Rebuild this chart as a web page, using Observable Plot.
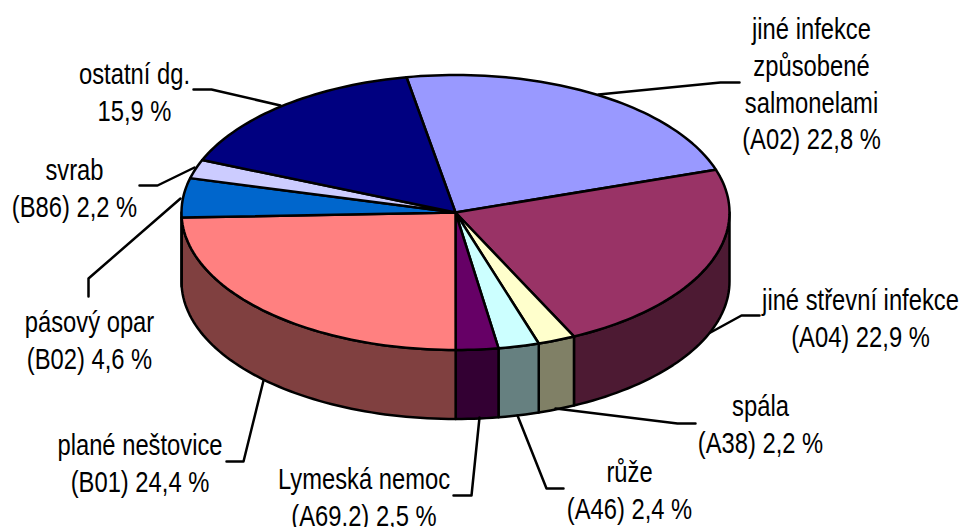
<!DOCTYPE html>
<html>
<head>
<meta charset="utf-8">
<script src="https://cdn.jsdelivr.net/npm/d3@7"></script>
<script src="https://cdn.jsdelivr.net/npm/@observablehq/plot@0.6"></script>
<style>
html,body{margin:0;padding:0;background:#fff}
svg{display:block}
</style>
</head>
<body>
<div id="chart"></div>
<script>
const categories = ["A02","A04","A38","A46","A69.2","B01","B02","B86","other"];
const values = [22.8,22.9,2.2,2.4,2.5,24.4,4.6,2.2,15.9];
const topColors = ["#9999FF","#993366","#FFFFCC","#CCFFFF","#660066","#FF8080","#0066CC","#CCCCFF","#000080"];
const wallColors = ["#4D4D80","#4D1A33","#808066","#668080","#330033","#804040","#003366","#666680","#000040"];
const labels = [
  "jiné infekce\nzpůsobené\nsalmonelami\n(A02) 22,8 %",
  "jiné střevní infekce\n(A04) 22,9 %",
  "spála\n(A38) 2,2 %",
  "růže\n(A46) 2,4 %",
  "Lymeská nemoc\n(A69.2) 2,5 %",
  "plané neštovice\n(B01) 24,4 %",
  "pásový opar\n(B02) 4,6 %",
  "svrab\n(B86) 2,2 %",
  "ostatní dg.\n15,9 %"
];

// layout (pixels of the picture), separate from the data
const pie = {cx:455, cy:212, rx:274, ry:137.5, depth:69, start:-10.3};
const labelX = [811,860,760,629,363.5,139.5,89,74,134];
const labelY = [82,316,422,488,495,461,338,186,90];
const leaders = [
  [[739,82],[720,82],[598,94]],
  [[759,315],[741,315],[710,332]],
  [[695,423],[677,423],[555,408]],
  [[563,488],[546,488],[517,415]],
  [[453,495],[471,495],[479,417]],
  [[226,461],[243,461],[263,380]],
  [[88,296],[88,278],[180,198]],
  [[139,185],[157,185],[194,167]],
  [[193,89],[211,89],[280,105]]
];
const narrow = 0.82; // the reference's face is a narrow Arial

const total = d3.sum(values);
const rad = a => a * Math.PI / 180;
const px = a => pie.cx + pie.rx * Math.sin(rad(a));
const py = (a, dz = 0) => pie.cy - pie.ry * Math.cos(rad(a)) + dz;

let acc = 0;
const slices = values.map((v, i) => {
  const a0 = pie.start + acc / total * 360;
  acc += v;
  return {i, a0, a1: pie.start + acc / total * 360};
});

const arc = (a0, a1, dz = 0) => {
  const n = Math.max(2, Math.ceil((a1 - a0) / 1.5) + 1);
  return d3.range(n).map(k => {
    const a = a0 + (a1 - a0) * k / (n - 1);
    return [px(a), py(a, dz)];
  });
};

const topPts = [], wallPts = [];
for (const s of slices) {
  const poly = [[pie.cx, pie.cy], ...arc(s.a0, s.a1), [pie.cx, pie.cy]];
  poly.forEach(p => topPts.push({x:p[0], y:p[1], id:s.i, color:topColors[s.i]}));
  const w0 = Math.max(s.a0, 90), w1 = Math.min(s.a1, 270);
  if (w1 > w0) {
    const a = arc(w0, w1), b = arc(w0, w1, pie.depth).reverse();
    [...a, ...b, a[0]].forEach(p => wallPts.push({x:p[0], y:p[1], id:s.i, color:wallColors[s.i]}));
  }
}
const leaderPts = leaders.flatMap((l, i) => l.map(p => ({x:p[0], y:p[1], id:i})));
const labelRows = labels.map((t, i) => ({t, x:labelX[i], y:labelY[i]}));

const polyOpts = {
  x:"x", y:"y", z:"id",
  fill:{transform: d => d.map(r => r.color), scale:null},
  stroke:"#000", strokeWidth:2.5, strokeLinejoin:"round", curve:"linear"
};

const chart = Plot.plot({
  width:963, height:527,
  marginTop:0, marginRight:0, marginBottom:0, marginLeft:0,
  x:{domain:[0,963], range:[0,963], axis:null},
  y:{domain:[0,527], range:[0,527], axis:null},
  marks:[
    Plot.line(wallPts, polyOpts),
    Plot.line(leaderPts, {x:"x", y:"y", z:"id", stroke:"#000", strokeWidth:2.5, curve:"linear"}),
    Plot.line(topPts, polyOpts),
    Plot.text(labelRows, {
      x:"x", y:"y", text:"t", textAnchor:"middle", lineAnchor:"middle",
      lineHeight:36.6/29, fontSize:29, fill:"#000",
      fontFamily:"'Liberation Sans',Arial,sans-serif"
    })
  ]
});
d3.select(chart).selectAll("text").each(function () {
  const t = this.getAttribute("transform") || "";
  this.setAttribute("transform", t + " scale(" + narrow + ",1)");
});
document.getElementById("chart").appendChild(chart);
</script>
</body>
</html>
